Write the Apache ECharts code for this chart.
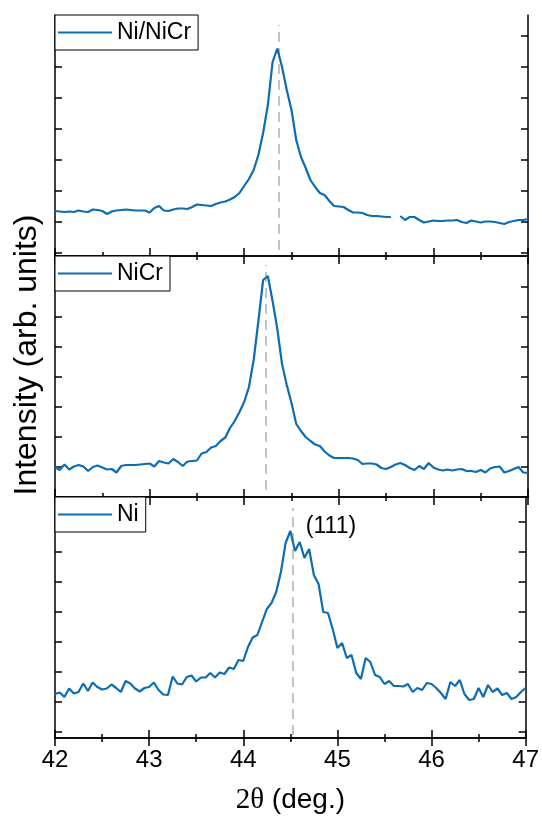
<!DOCTYPE html>
<html><head><meta charset="utf-8">
<script src="https://cdn.jsdelivr.net/npm/echarts@6/dist/echarts.min.js"></script>
<style>html,body{margin:0;padding:0;background:#fff}#c{width:542px;height:816px}</style>
</head><body><div id="c"></div>
<script>
const twoTheta = [42.00,42.05,42.10,42.15,42.20,42.25,42.30,42.35,42.40,42.45,42.50,42.55,42.60,42.65,42.70,42.75,42.80,42.85,42.90,42.95,
43.00,43.05,43.10,43.15,43.20,43.25,43.30,43.35,43.40,43.45,43.50,43.55,43.60,43.65,43.70,43.75,43.80,43.85,43.90,43.95,
44.00,44.05,44.10,44.15,44.20,44.25,44.30,44.35,44.40,44.45,44.50,44.55,44.60,44.65,44.70,44.75,44.80,44.85,44.90,44.95,
45.00,45.05,45.10,45.15,45.20,45.25,45.30,45.35,45.40,45.45,45.50,45.55,45.60,45.65,45.70,45.75,45.80,45.85,45.90,45.95,
46.00,46.05,46.10,46.15,46.20,46.25,46.30,46.35,46.40,46.45,46.50,46.55,46.60,46.65,46.70,46.75,46.80,46.85,46.90,46.95,47.00];

const intNiNiCr = [450,445,440,445,440,455,445,440,465,460,450,420,445,455,460,465,460,455,455,455,
435,480,500,455,450,465,475,475,470,490,515,510,505,500,520,535,545,565,590,630,
700,770,860,1010,1230,1510,1940,2075,1890,1660,1460,1160,990,880,760,690,630,610,550,500,
495,490,460,435,435,430,410,400,400,395,390,390,null,400,360,390,390,360,335,345,
355,350,350,355,355,360,340,330,355,345,335,345,345,340,330,320,340,350,360,360,370];

const intNiCr = [300,270,325,275,305,320,305,260,300,315,295,275,280,245,310,320,320,320,325,330,
335,305,360,345,335,380,350,310,355,360,365,435,450,495,510,560,595,690,760,850,
950,1100,1370,1760,2170,2210,1960,1680,1330,1120,940,730,660,600,560,525,510,455,415,390,
390,390,390,385,370,330,335,335,325,290,280,300,325,340,320,290,270,310,280,340,
295,275,265,275,265,275,280,260,260,250,270,245,285,300,305,245,260,280,300,245,240];

const intNi = [440,455,410,495,445,460,545,470,555,510,485,495,535,500,460,570,545,495,465,500,
510,555,480,435,430,615,545,535,610,625,565,605,605,650,605,655,640,705,690,780,
770,910,1005,1030,1160,1290,1350,1460,1660,1950,2070,1870,1960,1800,1890,1630,1540,1260,1250,1090,
900,950,800,830,650,590,800,760,630,610,540,570,520,520,515,540,460,500,480,550,
540,500,450,390,560,520,580,440,380,390,500,410,530,460,495,430,450,390,410,460,500];

const seriesNames = ['Ni/NiCr', 'NiCr', 'Ni'];
const peakPositions = [44.37, 44.23, 44.53];
const peakLabel = '(111)';
const xTickLabels = ['42', '43', '44', '45', '46', '47'];
const yTicksTop = [30, 340, 650, 960, 1270, 1580, 1890, 2200];
const yTicksMid = [0, 300, 600, 900, 1200, 1500, 1800, 2100];
const yTicksBot = [60, 360, 660, 960, 1260, 1560, 1860, 2160];

const FONT = '"Liberation Sans", Arial, sans-serif';
const BLUE = '#0e6cb2';
const chart = echarts.init(document.getElementById('c'), null, {renderer: 'canvas'});

const grids = [
  {left: 55, right: 14, top: 15, height: 241},
  {left: 55, right: 14, top: 256, height: 241},
  {left: 55, right: 14, top: 497, height: 241}
];
const yTickSets = [yTicksTop, yTicksMid, yTicksBot];
const dashRanges = [[60, 2310], [70, 2320], [30, 2300]];
const seriesData = [intNiNiCr, intNiCr, intNi];

const axisLine = {show: true, lineStyle: {color: '#000', width: 1.5}};
const xAxes = [], yAxes = [], series = [], legends = [];
grids.forEach((g, i) => {
  const last = i === grids.length - 1;
  ['bottom', 'top'].forEach(pos => {
    const isLabelAxis = last && pos === 'bottom';
    xAxes.push({
      type: 'value', gridIndex: i, position: pos, min: 42, max: 47, interval: 1,
      axisLine,
      axisTick: {show: true, inside: true, length: 8, lineStyle: {color: '#000', width: 1.5}},
      minorTick: {show: true, splitNumber: 2, length: 4, lineStyle: {color: '#000', width: 1.5}},
      splitLine: {show: false},
      axisLabel: {show: isLabelAxis, fontSize: 24, fontFamily: FONT, color: '#000', margin: 10,
        formatter: v => xTickLabels[Math.round(v - 42)]},
      name: isLabelAxis ? '{s|2θ} (deg.)' : '',
      nameLocation: 'middle', nameGap: 48,
      nameTextStyle: {fontSize: 28, fontFamily: FONT, color: '#000',
        rich: {s: {fontSize: 29, fontFamily: '"Liberation Serif", "Times New Roman", serif', color: '#000'}}}
    });
  });
  ['left', 'right'].forEach(pos => {
    yAxes.push({
      type: 'value', gridIndex: i, position: pos, min: 0, max: 2410,
      axisLine,
      axisTick: {show: true, inside: true, length: 7, customValues: yTickSets[i], lineStyle: {color: '#000', width: 1.5}},
      axisLabel: {show: false},
      splitLine: {show: false}
    });
  });
  const s = {
    type: 'line', name: seriesNames[i], xAxisIndex: 2 * i, yAxisIndex: 2 * i,
    data: twoTheta.map((x, k) => [x, seriesData[i][k]]),
    symbol: 'none', showSymbol: false, connectNulls: false,
    lineStyle: {color: BLUE, width: 2.2}, itemStyle: {color: BLUE},
    z: 3,
    markLine: {
      silent: true, symbol: ['none', 'none'], label: {show: false},
      lineStyle: {color: '#c4c4c4', type: [10, 6], width: 2},
      data: [[{coord: [peakPositions[i], dashRanges[i][0]]}, {coord: [peakPositions[i], dashRanges[i][1]]}]],
      z: 2
    }
  };
  if (last) {
    s.markPoint = {
      silent: true, symbol: 'circle', symbolSize: 0,
      data: [{coord: [44.665, 2110], label: {show: true, formatter: peakLabel, position: 'inside',
        align: 'left', verticalAlign: 'middle', fontSize: 23, fontFamily: FONT, color: '#000'}}]
    };
  }
  series.push(s);
  legends.push({
    data: [{name: seriesNames[i], icon: 'rect'}], left: 55, top: g.top, orient: 'horizontal',
    borderColor: '#000', borderWidth: 1, backgroundColor: '#fff', borderRadius: 0,
    padding: [6, 7, 6, 3], itemWidth: 54, itemHeight: 2, selectedMode: false,
    itemStyle: {color: BLUE, borderWidth: 0},
    textStyle: {fontSize: 23, lineHeight: 22, fontFamily: FONT, color: '#000'}
  });
});

chart.setOption({
  animation: false,
  backgroundColor: '#fff',
  grid: grids,
  xAxis: xAxes,
  yAxis: yAxes,
  legend: legends,
  series,
  graphic: [{
    type: 'text', x: 27, y: 355, rotation: Math.PI / 2,
    style: {text: 'Intensity (arb. units)', fontSize: 32, fontFamily: FONT, fill: '#000',
      align: 'center', verticalAlign: 'middle', textAlign: 'center', textVerticalAlign: 'middle'}
  }]
});
</script></body></html>
